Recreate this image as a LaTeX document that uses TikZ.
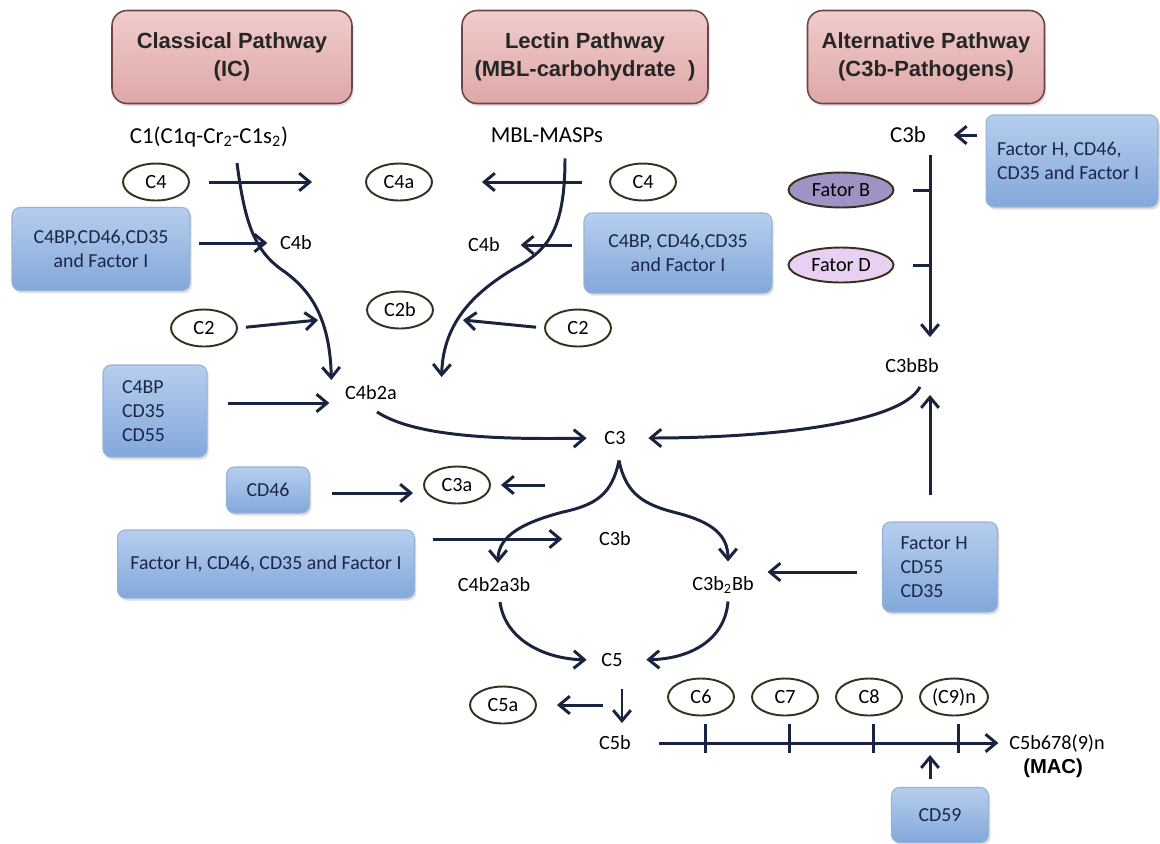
\documentclass[tikz,border=0pt]{standalone}
\usepackage{fontspec}
\setmainfont{Carlito}
\newfontfamily\hdfont{Liberation Sans}
\usetikzlibrary{arrows.meta,calc,shapes.geometric,shadows}
\definecolor{navy}{RGB}{26,36,62}
\definecolor{hdtop}{RGB}{240,204,203}
\definecolor{hdbot}{RGB}{222,168,167}
\definecolor{hdedge}{RGB}{110,70,70}
\definecolor{bxtop}{RGB}{182,206,238}
\definecolor{bxbot}{RGB}{130,168,218}
\definecolor{bxedge}{RGB}{150,178,215}
\definecolor{bxtext}{RGB}{28,38,72}
\definecolor{ovedge}{RGB}{52,50,30}
\definecolor{fatorb}{RGB}{160,146,196}
\definecolor{fatord}{RGB}{232,208,242}

\begin{document}
\begin{tikzpicture}[x=0.02cm,y=-0.02cm,
    hdr/.style={rectangle, rounded corners=0.3cm, top color=hdtop, bottom color=hdbot, draw=hdedge, line width=0.9pt,
      align=center, text=black!85, font=\hdfont\bfseries\fontsize{12.5}{16}\selectfont, minimum height=1.86cm,
      drop shadow={opacity=0.25, shadow xshift=1pt, shadow yshift=-1.5pt}},
    inh/.style={rectangle, rounded corners=0.16cm, top color=bxtop, bottom color=bxbot, draw=bxedge, line width=0.6pt,
      align=center, text=bxtext, font=\fontsize{11.3}{13.6}\selectfont, inner sep=0pt,
      drop shadow={opacity=0.25, shadow xshift=1pt, shadow yshift=-1.5pt}},
    comp/.style={ellipse, draw=ovedge, fill=white, line width=1.1pt, minimum width=1.32cm, minimum height=0.74cm,
      inner sep=0pt, font=\fontsize{11.5}{13}\selectfont},
    lbl/.style={inner sep=2pt, font=\fontsize{11.5}{13}\selectfont},
    big/.style={inner sep=2pt, font=\fontsize{13}{15}\selectfont},
    arr/.style={draw=navy, line width=1.7pt, -{Straight Barb[length=6pt,width=10pt]}},
    ln/.style={draw=navy, line width=1.7pt}]
\useasboundingbox (0,0) rectangle (1160,843);

\node[hdr, minimum width=4.8cm] (hcl) at (232,57) {Classical Pathway\\(IC)};
\node[hdr, minimum width=4.92cm] (hle) at (585,57) {Lectin Pathway\\(MBL-carbohydrate\ \ )};
\node[hdr, minimum width=4.74cm] (hal) at (926,57) {Alternative Pathway\\(C3b-Pathogens)};

\node[big] (c1) at (209,137) {C1(C1q-Cr\textsubscript{2}-C1s\textsubscript{2})};
\node[big] (mbl) at (547,135) {MBL-MASPs};
\node[big] (c3bt) at (908,135) {C3b};

\node[comp] (c4l) at (156,182) {C4};
\node[comp] (c4a) at (399,182) {C4a};
\node[comp] (c4r) at (643,182) {C4};
\node[comp] (c2l) at (204,328) {C2};
\node[comp] (c2b) at (400,310) {C2b};
\node[comp] (c2r) at (578,328) {C2};
\node[comp] (c3a) at (457,485) {C3a};
\node[comp] (c5a) at (503,705) {C5a};
\node[comp] (c6) at (701,697) {C6};
\node[comp] (c7) at (785,697) {C7};
\node[comp] (c8) at (869,697) {C8};
\node[comp, minimum width=1.36cm] (c9) at (954,697) {(C9)n};
\node[comp, fill=fatorb, minimum width=2.1cm, minimum height=0.7cm] (fb) at (841,190) {Fator B};
\node[comp, fill=fatord, minimum width=2.1cm, minimum height=0.7cm] (fd) at (841,265) {Fator D};

\node[inh, minimum width=3.56cm, minimum height=1.66cm] (b1) at (101,249) {C4BP,CD46,CD35\\and Factor I};
\node[inh, minimum width=3.76cm, minimum height=1.6cm] (b2) at (678,253) {C4BP, CD46,CD35\\and Factor I};
\node[inh, align=flush left, text width=1.32cm, inner xsep=0.38cm, minimum height=1.84cm] (b3) at (155,411) {C4BP\\CD35\\CD55};
\node[inh, minimum width=1.66cm, minimum height=0.92cm] (b4) at (268,490) {CD46};
\node[inh, minimum width=5.94cm, minimum height=1.36cm] (b5) at (266,564) {Factor H, CD46, CD35 and Factor I};
\node[inh, align=flush left, text width=3.0cm, inner xsep=0.22cm, minimum height=1.84cm] (b6) at (1072,161) {Factor H, CD46,\\CD35 and Factor I};
\node[inh, align=flush left, text width=1.58cm, inner xsep=0.36cm, minimum height=1.8cm] (b7) at (940,567) {Factor H\\CD55\\CD35};
\node[inh, minimum width=1.94cm, minimum height=1.1cm] (b8) at (940,815) {CD59};

\node[lbl] (c4bl) at (296,243) {C4b};
\node[lbl] (c4br) at (484,245) {C4b};
\node[lbl] (c4b2a) at (371,393) {C4b2a};
\node[lbl] (c3) at (615,438) {C3};
\node[lbl] (c3bBb) at (912,366) {C3bBb};
\node[lbl] (c3bm) at (615,539) {C3b};
\node[lbl] (c4b2a3b) at (494,585) {C4b2a3b};
\node[lbl] (c3b2Bb) at (723,585) {C3b\textsubscript{2}Bb};
\node[lbl] (c5) at (612,660) {C5};
\node[lbl] (c5b) at (615,743) {C5b};
\node[lbl] (mac) at (1057,743) {C5b678(9)n};
\node[inner sep=1pt, font=\hdfont\bfseries\fontsize{11.5}{13}\selectfont] (mact) at (1053,768) {(MAC)};

\coordinate (j1) at (318,320);
\coordinate (j2) at (463,320);
\coordinate (alt0) at (930,155);
\coordinate (c3cut) at (545,485);
\coordinate (c5cut) at (603,705);

\draw[arr] ($(c1.south)+(28,12)$) .. controls (245,225) and (255,252) .. (285,272)
  .. controls (312,292) and (330,320) .. ($(c4b2a.west)+(-10,-13)$);
\draw[arr] ($(mbl.south)+(18,12)$) .. controls (565,230) and (548,250) .. (515,268)
  .. controls (478,290) and (443,320) .. ($(c4b2a.east)+(41,-16)$);

\draw[arr, shorten <=0.38cm, shorten >=1.06cm] (c4l.east) -- (c4a.west);
\draw[arr, shorten <=0.54cm, shorten >=0.98cm] (c4r.west) -- (c4a.east);
\draw[arr, shorten <=0.16cm, shorten >=0.18cm] (b1.east |- c4bl.west) -- (c4bl.west);
\draw[arr, shorten <=0.22cm, shorten >=0.34cm] (b2.west |- c4br.east) -- (c4br.east);
\draw[arr, shorten <=0.16cm] (c2l.east) -- (j1);
\draw[arr, shorten <=0.16cm] (c2r.west) -- (j2);
\draw[arr] ($(b3.east)+(20,-8)$) -- ($(c4b2a.west)+(-12,10)$);

\draw[arr, shorten >=0.28cm] ($(c4b2a.south)+(6,8)$) .. controls (420,440) and (520,439) .. (c3.west);
\draw[arr, shorten >=0.38cm] ($(c3bBb.south)+(8,10)$) .. controls (900,425) and (760,438) .. (c3.east);

\draw[arr] ($(c3.south)+(4,12)$) .. controls (612,495) and (595,505) .. (563,512)
  .. controls (525,522) and (498,535) .. ($(c4b2a3b.north)+(4,-11)$);
\draw[arr] ($(c3.south)+(4,12)$) .. controls (626,495) and (645,505) .. (677,513)
  .. controls (712,522) and (728,535) .. ($(c3b2Bb.north)+(5,-11)$);

\draw[arr] ($(b4.east)+(22,3)$) -- ($(c3a.west)+(-10,8)$);
\draw[arr, shorten >=0.2cm] (c3cut) -- (c3a.east);
\draw[arr, shorten >=0.66cm] ($(b5.east)+(18,-25)$) -- (c3bm.west);

\draw[arr, shorten <=0.18cm, shorten >=0.48cm] (b6.west |- c3bt) -- (c3bt.east);
\draw[arr, shorten >=0.36cm] (alt0) -- (alt0 |- c3bBb.north);
\draw[ln] ($(fb.east)+(19,0)$) -- (fb.east -| alt0);
\draw[ln] ($(fd.east)+(19,0)$) -- (fd.east -| alt0);
\draw[arr, shorten <=0.52cm, shorten >=0.36cm] (alt0 |- b7.north) -- (alt0 |- c3bBb.south);
\draw[arr, shorten <=0.5cm, shorten >=0.2cm] ($(b7.west)+(0,5)$) -- ($(c3b2Bb.east)+(0,-13)$);

\draw[arr, shorten >=0.22cm] ($(c4b2a3b.south)+(6,6)$) .. controls (505,640) and (545,659) .. (c5.west);
\draw[arr, shorten >=0.4cm] ($(c3b2Bb.south)+(5,4)$) .. controls (725,640) and (690,659) .. (c5.east);
\draw[arr] ($(c5.south)+(10,18)$) -- ($(c5b.north)+(7,-9)$);
\draw[arr, shorten >=0.4cm] (c5cut) -- (c5a.east);

\draw[arr, shorten <=0.48cm, shorten >=0.14cm] (c5b.east) -- (mac.west);
\foreach \c in {c6,c7,c8,c9}
  \draw[ln] ($(\c.south)+(4,8)$) -- ++(0,29);
\draw[arr, shorten <=0.16cm, shorten >=0.18cm] ($(b8.north)+(-10,0)$) -- ($(b8.north |- mac.west)+(-10,3)$);
\end{tikzpicture}
\end{document}
